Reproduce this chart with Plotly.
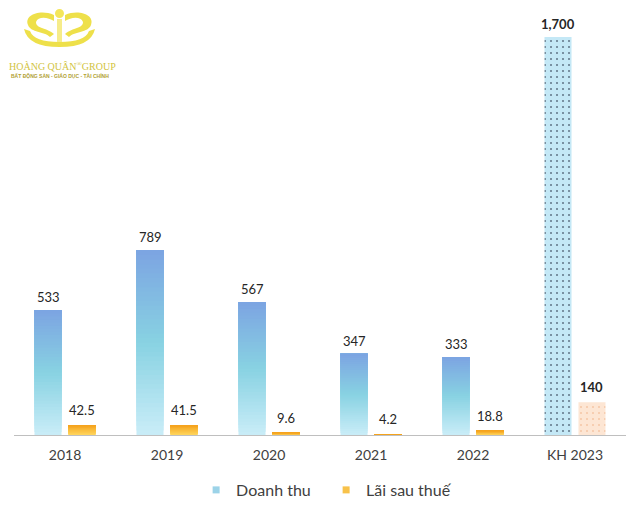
import plotly.graph_objects as go

years = ["2018", "2019", "2020", "2021", "2022", "KH 2023"]
revenue = [533, 789, 567, 347, 333, 1700]
profit = [42.5, 41.5, 9.6, 4.2, 18.8, 140]
series_names = ["Doanh thu", "Lãi sau thuế"]

idx = list(range(len(years)))
actual = idx[:-1]
plan = idx[-1]

W = 0.265
OFF_B = -0.299
OFF_O = 0.034
N = 40

blue_stops = [(0.0, (202, 237, 248)), (0.5, (136, 210, 226)), (1.0, (124, 164, 226))]
orange_stops = [(0.0, (255, 216, 96)), (1.0, (245, 162, 28))]


def interp(stops, t):
    for (t0, c0), (t1, c1) in zip(stops[:-1], stops[1:]):
        if t0 <= t <= t1:
            f = (t - t0) / (t1 - t0) if t1 > t0 else 0
            return "rgb(%d,%d,%d)" % tuple(round(a + (b - a) * f) for a, b in zip(c0, c1))
    return "rgb(%d,%d,%d)" % stops[-1][1]


fig = go.Figure()

# gradient bars: each slice starts higher and runs to the bar top, drawn over the previous one
for k in range(N):
    t = (k + 0.5) / N
    fig.add_trace(go.Bar(
        x=actual, y=[revenue[i] * (N - k) / N for i in actual],
        base=[revenue[i] * k / N for i in actual],
        width=W, offset=OFF_B, marker=dict(color=interp(blue_stops, t), line=dict(width=0)),
        showlegend=False, hoverinfo="skip"))
    fig.add_trace(go.Bar(
        x=actual, y=[profit[i] * (N - k) / N for i in actual],
        base=[profit[i] * k / N for i in actual],
        width=W, offset=OFF_O, marker=dict(color=interp(orange_stops, t), line=dict(width=0)),
        showlegend=False, hoverinfo="skip"))

# plan year with dotted pattern
fig.add_trace(go.Bar(
    x=[plan], y=[revenue[plan]], width=W, offset=OFF_B,
    marker=dict(color="#C4E8F6", line=dict(width=0),
                pattern=dict(shape=".", fillmode="replace", bgcolor="#C4E8F6",
                             fgcolor="#1A2238", size=6, solidity=0.06)),
    showlegend=False, hoverinfo="skip"))
fig.add_trace(go.Bar(
    x=[plan], y=[profit[plan]], width=W, offset=OFF_O,
    marker=dict(color="#FDE6D4", line=dict(width=0),
                pattern=dict(shape=".", fillmode="replace", bgcolor="#FDE6D4",
                             fgcolor="#F0B184", size=6, solidity=0.06)),
    showlegend=False, hoverinfo="skip"))

# legend entries
fig.add_trace(go.Scatter(x=[None], y=[None], mode="markers", name=series_names[0],
                         marker=dict(symbol="square", size=7, color="#9CD3E8")))
fig.add_trace(go.Scatter(x=[None], y=[None], mode="markers", name=series_names[1],
                         marker=dict(symbol="square", size=7, color="#F8C24A")))

annotations = []
cb = OFF_B + W / 2
co = OFF_O + W / 2
for i in idx:
    bold = i == plan
    rt = f"{revenue[i]:,.0f}"
    pt = f"{profit[i]:g}"
    if bold:
        rt, pt = f"<b>{rt}</b>", f"<b>{pt}</b>"
    annotations.append(dict(x=i + cb, y=revenue[i], text=rt, showarrow=False,
                            yanchor="middle", yshift=13,
                            font=dict(size=13, color="#262626", family="Lato")))
    annotations.append(dict(x=i + co, y=profit[i], text=pt, showarrow=False,
                            yanchor="middle", yshift=15,
                            font=dict(size=13, color="#262626", family="Lato")))


# page-pixel helpers for the logo (plot area spans x 14..626, y 20..435 on the page)
def px(x):
    return (x - 14) / 612.0


def py(y):
    return (435 - y) / 415.0


annotations.append(dict(xref="paper", yref="paper", x=px(62), y=py(66), xanchor="center", yanchor="middle",
                        text="HOÀNG QUÂN<sup>®</sup>GROUP",
                        showarrow=False, font=dict(size=10, color="#D2C441", family="Liberation Serif")))
annotations.append(dict(xref="paper", yref="paper", x=px(60), y=py(76), xanchor="center", yanchor="middle",
                        text="<b>BẤT ĐỘNG SẢN - GIÁO DỤC - TÀI CHÍNH</b>",
                        showarrow=False, font=dict(size=5, color="#B0A032", family="Liberation Sans")))

GOLD = "#EEE04A"
shapes = [
    # sun
    dict(type="circle", xref="paper", yref="paper", x0=px(55), x1=px(64), y0=py(18), y1=py(9),
         fillcolor="#F4E65A", line=dict(width=0)),
    # bowl
    dict(type="path", xref="paper", yref="paper",
         path=f"M {px(24)},{py(29)} Q {px(28)},{py(47)} {px(59.5)},{py(47)} Q {px(91)},{py(47)} {px(95)},{py(29)} "
              f"L {px(89)},{py(31)} Q {px(85)},{py(42)} {px(59.5)},{py(42)} Q {px(34)},{py(42)} {px(30)},{py(31)} Z",
         fillcolor=GOLD, line=dict(width=0)),
    # left dragon
    dict(type="path", xref="paper", yref="paper",
         path=f"M {px(54)},{py(15)} C {px(40)},{py(9)} {px(24)},{py(15)} {px(28)},{py(25)} "
              f"C {px(31)},{py(33)} {px(44)},{py(31)} {px(50)},{py(37)} "
              f"L {px(54)},{py(34)} C {px(46)},{py(27)} {px(36)},{py(29)} {px(36)},{py(22)} "
              f"C {px(38)},{py(16)} {px(48)},{py(17)} {px(54)},{py(21)} Z",
         fillcolor=GOLD, line=dict(width=0)),
    # right dragon
    dict(type="path", xref="paper", yref="paper",
         path=f"M {px(65)},{py(15)} C {px(79)},{py(9)} {px(95)},{py(15)} {px(91)},{py(25)} "
              f"C {px(88)},{py(33)} {px(75)},{py(31)} {px(69)},{py(37)} "
              f"L {px(65)},{py(34)} C {px(73)},{py(27)} {px(83)},{py(29)} {px(83)},{py(22)} "
              f"C {px(81)},{py(16)} {px(71)},{py(17)} {px(65)},{py(21)} Z",
         fillcolor=GOLD, line=dict(width=0)),
    # central pillar
    dict(type="rect", xref="paper", yref="paper", x0=px(57), x1=px(62), y0=py(42), y1=py(19),
         fillcolor="#F6EC8A", line=dict(width=0)),
]

# the page body has an 8px margin, so the figure is drawn 8px smaller and margins reduced by 8
fig.update_layout(
    width=629, height=505,
    margin=dict(l=6, r=11, t=12, b=78),
    paper_bgcolor="white", plot_bgcolor="white",
    barmode="overlay",
    font=dict(family="Lato", color="#404040"),
    xaxis=dict(range=[-0.5, 5.5], tickvals=idx, ticktext=years, showgrid=False, zeroline=False,
               showline=True, linecolor="#BFBFBF", linewidth=1, ticks="", tickfont=dict(size=14, color="#404040"),
               ticklabelstandoff=7),
    yaxis=dict(range=[0, 1772.6], visible=False, showgrid=False),
    legend=dict(orientation="h", x=0.51, xanchor="center", y=-0.1325, yanchor="middle",
                entrywidth=85, entrywidthmode="pixels",
                font=dict(size=16, color="#404040"), bgcolor="rgba(0,0,0,0)"),
    annotations=annotations,
    shapes=shapes,
)

fig.write_html("out.html")
